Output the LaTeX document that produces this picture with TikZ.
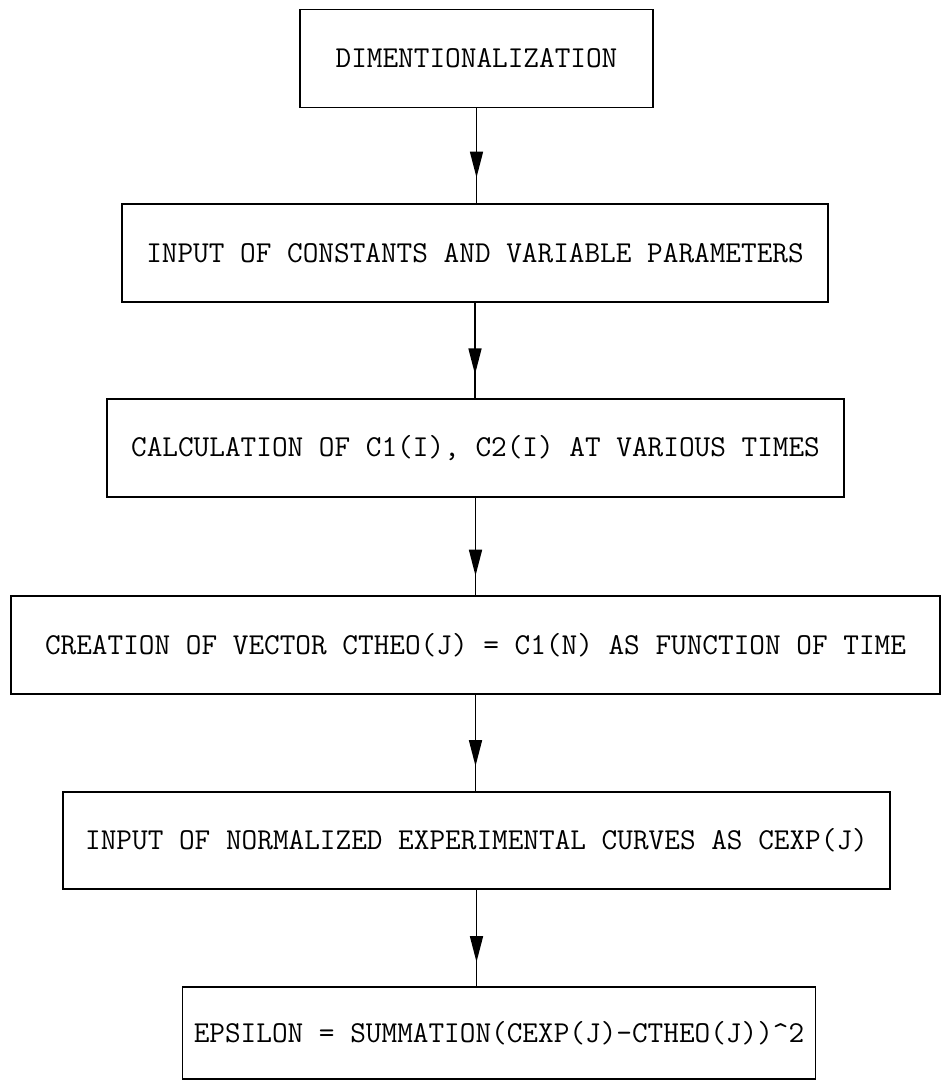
\documentclass[tikz,border=0pt]{standalone}
\usepackage{fontspec}
\usetikzlibrary{arrows.meta,decorations.markings}
\tikzset{
  blk/.style={draw,rectangle,inner sep=0pt,minimum height=1.96cm,font=\fontsize{17.3}{20}\selectfont\ttfamily},
  ar/.style={postaction={decorate},decoration={markings,mark=at position #1 with {\arrow{Triangle[length=5.2mm,width=2.6mm]}}}},
  ar/.default=0.76,
  every picture/.style={line width=0.9pt},
}

\begin{document}
\begin{tikzpicture}[x=0.02cm,y=-0.02cm]
\useasboundingbox (0,0) rectangle (948,1081);
\node[blk,minimum width=7.06cm] (D) at (476.5,58.5){DIMENTIONALIZATION};
\node[blk,minimum width=14.12cm] (I) at (475,253){INPUT OF CONSTANTS AND VARIABLE PARAMETERS};
\node[blk,minimum width=14.74cm] (C) at (475.5,448){CALCULATION OF C1(I), C2(I) AT VARIOUS TIMES};
\node[blk,minimum width=18.58cm] (V) at (475.5,645){CREATION OF VECTOR CTHEO(J) = C1(N) AS FUNCTION OF TIME};
\node[blk,minimum width=16.54cm,minimum height=1.94cm] (X) at (476.5,840.5){INPUT OF NORMALIZED EXPERIMENTAL CURVES AS CEXP(J)};
\node[blk,minimum width=12.66cm,minimum height=1.84cm] (E) at (499,1033){EPSILON = SUMMATION(CEXP(J)-CTHEO(J))\textasciicircum2};
\draw[ar=0.73] (D.south)--(D.south |- I.north); \draw[ar=0.75] (I.south)--(I.south |- C.north);
\draw[ar=0.8] (C.south)--(C.south |- V.north); \draw[ar=0.74] (V.south)--(V.south |- X.north);
\draw[ar=0.75] (X.south)--(X.south |- E.north);
\end{tikzpicture}
\end{document}
